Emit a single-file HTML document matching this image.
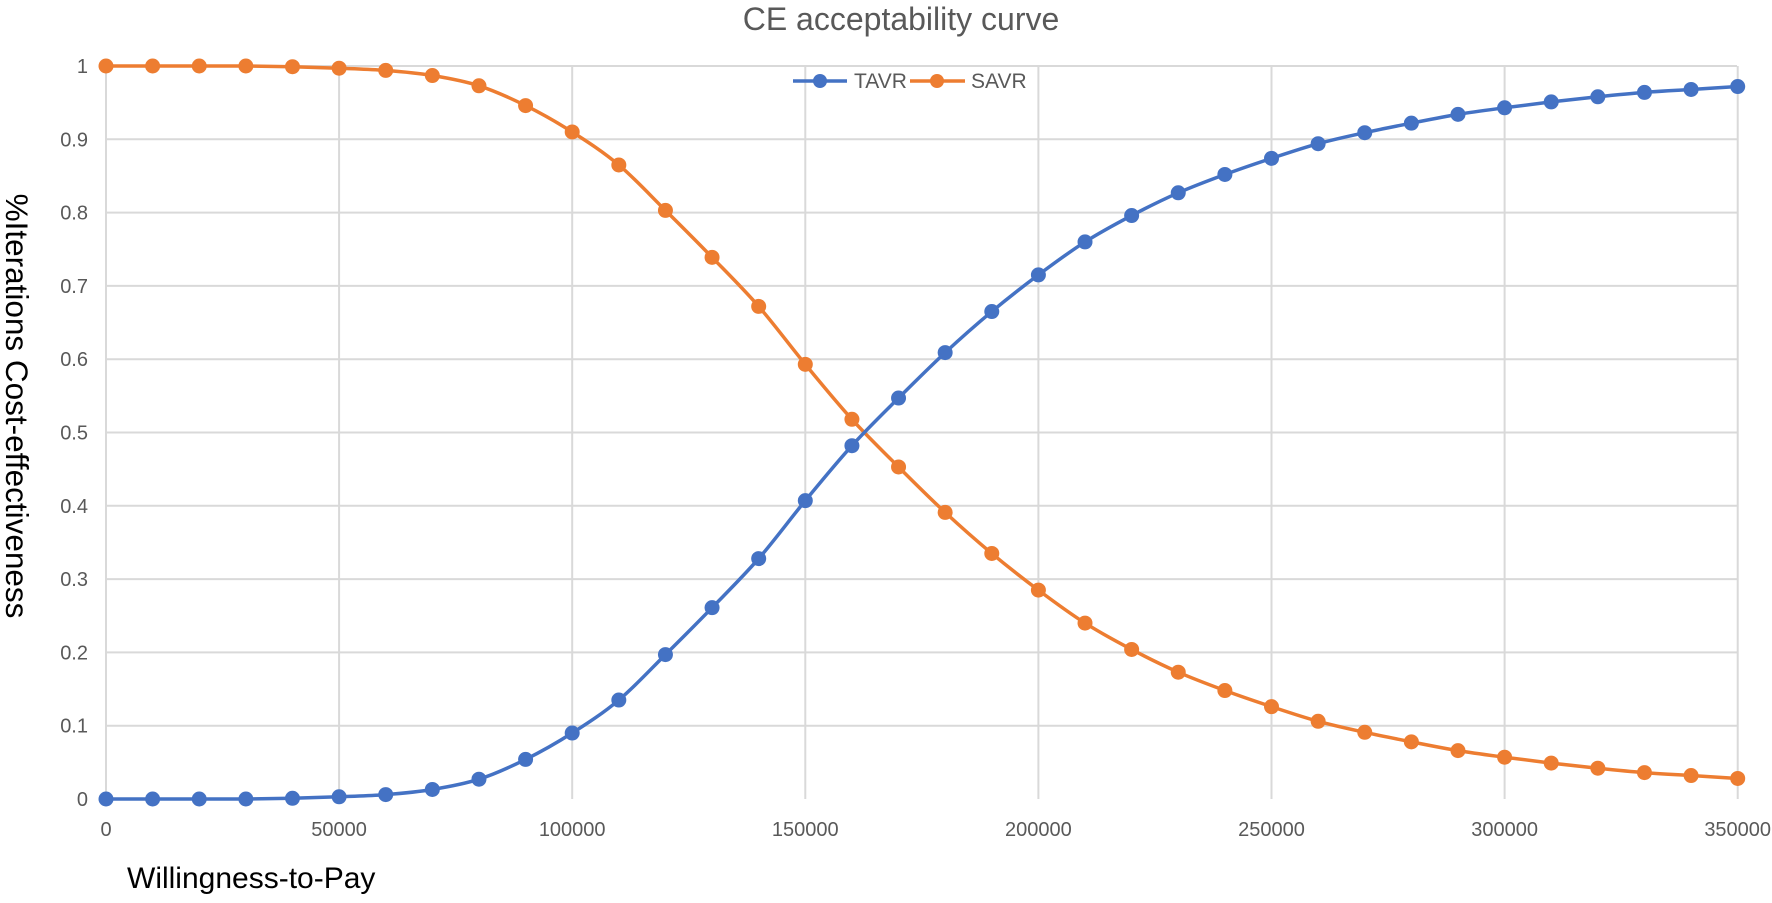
<!DOCTYPE html>
<html><head><meta charset="utf-8"><style>
html,body{margin:0;padding:0;background:#fff}
svg{display:block}
text{font-family:"Liberation Sans",sans-serif}
</style></head><body>
<svg id="s" width="1772" height="903" viewBox="0 0 1772 903" xmlns="http://www.w3.org/2000/svg">
<rect width="1772" height="903" fill="#fff"/>
<g id="grid" stroke="#d9d9d9" stroke-width="2"></g>
<g id="ticks" fill="#595959" font-size="20"></g>
<text x="901" y="30" font-size="32" fill="#595959" text-anchor="middle">CE acceptability curve</text>
<text x="127" y="888" font-size="30" fill="#000">Willingness-to-Pay</text>
<text transform="translate(6,406) rotate(90)" font-size="31.5" fill="#000" text-anchor="middle">%Iterations Cost-effectiveness</text>
<g id="series"></g>
<g font-size="21" fill="#595959">
<line x1="793" y1="81" x2="847" y2="81" stroke="#4472C4" stroke-width="3.5"/>
<circle cx="820" cy="81" r="7" fill="#4472C4"/>
<text x="854" y="88">TAVR</text>
<line x1="910" y1="81" x2="965" y2="81" stroke="#ED7D31" stroke-width="3.5"/>
<circle cx="937" cy="81" r="7" fill="#ED7D31"/>
<text x="971" y="88">SAVR</text>
</g>
</svg>
<script>
var NS="http://www.w3.org/2000/svg";
function X(v){return 106+v/50000*233.1;}
function Y(v){return 799-v*733;}
function el(t,a,p,txt){var e=document.createElementNS(NS,t);for(var k in a)e.setAttribute(k,a[k]);if(txt!==undefined)e.textContent=txt;document.getElementById(p).appendChild(e);return e;}
for(var i=0;i<=10;i++){var y=Y(i/10);if(i>0)el('line',{x1:106,x2:1737,y1:y,y2:y},'grid');
el('text',{x:88,y:y+7,'text-anchor':'end'},'ticks',i==0?'0':i==10?'1':(i/10).toString());}
for(var j=0;j<=7;j++){var x=X(j*50000);el('line',{x1:x,x2:x,y1:Y(1),y2:Y(0)},'grid');
el('text',{x:x,y:836,'text-anchor':'middle'},'ticks',(j*50000).toString());}
var t=[0,0,0,0,0.001,0.003,0.006,0.013,0.027,0.054,0.09,0.135,0.197,0.261,0.328,0.407,0.482,0.547,0.609,0.665,0.715,0.76,0.796,0.827,0.852,0.874,0.894,0.909,0.922,0.934,0.943,0.951,0.958,0.964,0.968,0.972];
function draw(vals,col){var p=vals.map(function(v,i){return [X(i*10000),Y(v)];});
var d='M'+p[0][0]+','+p[0][1];
for(var i=0;i<p.length-1;i++){var p0=p[Math.max(0,i-1)],p1=p[i],p2=p[i+1],p3=p[Math.min(p.length-1,i+2)];
var c1=[p1[0]+(p2[0]-p0[0])/6,p1[1]+(p2[1]-p0[1])/6],c2=[p2[0]-(p3[0]-p1[0])/6,p2[1]-(p3[1]-p1[1])/6];
d+=' C'+c1[0]+','+c1[1]+' '+c2[0]+','+c2[1]+' '+p2[0]+','+p2[1];}
el('path',{d:d,fill:'none',stroke:col,'stroke-width':3.5},'series');
p.forEach(function(q){el('circle',{cx:q[0],cy:q[1],r:7.5,fill:col},'series');});}
draw(t.map(function(v){return 1-v;}),'#ED7D31');
draw(t,'#4472C4');
</script>
</body></html>
